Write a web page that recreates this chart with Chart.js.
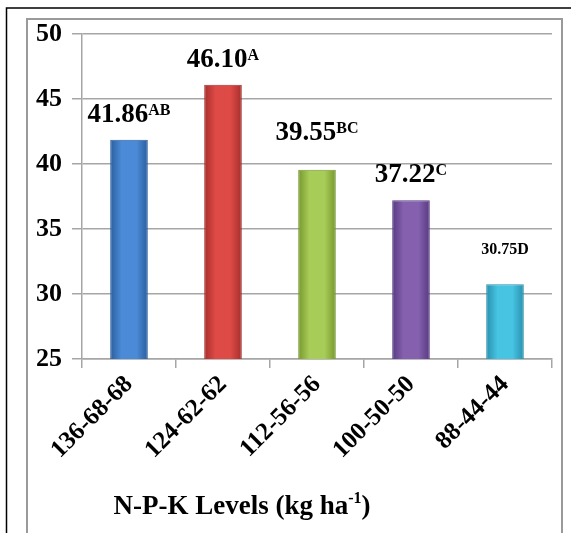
<!DOCTYPE html>
<html>
<head>
<meta charset="utf-8">
<script src="https://cdn.jsdelivr.net/npm/chart.js@4/dist/chart.umd.min.js"></script>
<style>
  html, body { margin: 0; padding: 0; background: #fff; }
  #wrap { width: 571px; height: 533px; position: relative; }
</style>
</head>
<body>
<div id="wrap"><canvas id="c" width="571" height="533"></canvas></div>
<script>
// data
const levels = ['136-68-68', '124-62-62', '112-56-56', '100-50-50', '88-44-44'];
const values = [41.86, 46.10, 39.55, 37.22, 30.75];
const letters = ['AB', 'A', 'BC', 'C', 'D'];
const yTicks = [25, 30, 35, 40, 45, 50];

// bar colours: centre / edge
const mid = ['#4a8ad6', '#de4a46', '#a8cc58', '#8560ae', '#46c4e2'];
const edge = ['#2b5e9e', '#a52e2c', '#76982e', '#573a82', '#2890ad'];

const serif = '"Liberation Serif", "Times New Roman", serif';

// frame lines round the figure
const framePlugin = {
  id: 'frame',
  beforeDraw(chart) {
    const c = chart.ctx;
    c.save();
    c.strokeStyle = '#000';
    c.lineWidth = 1.5;
    c.beginPath();
    c.moveTo(571, 8); c.lineTo(6.5, 8); c.lineTo(6.5, 533);
    c.stroke();
    c.strokeStyle = '#9a9a9a';
    c.lineWidth = 2;
    c.beginPath();
    c.moveTo(27, 533); c.lineTo(27, 19); c.lineTo(562, 19); c.lineTo(562, 533);
    c.stroke();
    c.restore();
  }
};

// value + letter label above each bar
const labelPlugin = {
  id: 'barLabels',
  afterDatasetsDraw(chart, args, opts) {
    const c = chart.ctx;
    const meta = chart.getDatasetMeta(0);
    c.save();
    c.fillStyle = '#000';
    c.textBaseline = 'alphabetic';
    c.textAlign = 'left';
    meta.data.forEach((bar, i) => {
      const main = values[i].toFixed(2);
      const y = bar.y - opts.offsets[i];
      if (i === values.length - 1) {
        c.font = 'bold 16px ' + serif;
        const s = main + letters[i];
        c.fillText(s, bar.x - c.measureText(s).width / 2, y);
        return;
      }
      const f1 = 'bold 27px ' + serif, f2 = 'bold 16px ' + serif;
      c.font = f1; const w1 = c.measureText(main).width;
      c.font = f2; const w2 = c.measureText(letters[i]).width;
      const x0 = bar.x - (w1 + w2) / 2;
      c.font = f1; c.fillText(main, x0, y);
      c.font = f2; c.fillText(letters[i], x0 + w1, y - 7);
    });
    c.restore();
  }
};

// x axis title with superscript
const titlePlugin = {
  id: 'axisTitle',
  afterDraw(chart) {
    const c = chart.ctx;
    const a = 'N-P-K Levels (kg ha', sup = '-1', b = ')';
    const fMain = 'bold 27px ' + serif, fSup = 'bold 16px ' + serif;
    c.save();
    c.fillStyle = '#000';
    c.textBaseline = 'alphabetic';
    c.font = fMain; const wa = c.measureText(a).width, wb = c.measureText(b).width;
    c.font = fSup; const ws = c.measureText(sup).width;
    let x = 242 - (wa + ws + wb) / 2;
    const y = 514;
    c.font = fMain; c.fillText(a, x, y); x += wa;
    c.font = fSup; c.fillText(sup, x, y - 11); x += ws;
    c.font = fMain; c.fillText(b, x, y);
    c.restore();
  }
};

function barFill(ctx) {
  const chart = ctx.chart;
  const i = ctx.dataIndex;
  const area = chart.chartArea;
  if (!area || i === undefined) return mid[i] || '#888';
  const cx = chart.scales.x.getPixelForValue(i);
  const half = (area.right - area.left) / levels.length * 0.2;
  const g = chart.ctx.createLinearGradient(cx - half, 0, cx + half, 0);
  g.addColorStop(0, edge[i]);
  g.addColorStop(0.3, mid[i]);
  g.addColorStop(0.7, mid[i]);
  g.addColorStop(1, edge[i]);
  return g;
}

new Chart(document.getElementById('c'), {
  type: 'bar',
  data: {
    labels: levels,
    datasets: [{
      data: values,
      backgroundColor: barFill,
      borderColor: edge,
      borderWidth: 1,
      barPercentage: 0.8,
      categoryPercentage: 0.5
    }]
  },
  plugins: [framePlugin, labelPlugin, titlePlugin],
  options: {
    responsive: false,
    animation: false,
    layout: { padding: { left: 30, right: 19, top: 34, bottom: 0 } },
    plugins: {
      legend: { display: false },
      tooltip: { enabled: false },
      barLabels: { offsets: [18, 18, 30, 18, 30] }
    },
    scales: {
      x: {
        grid: { drawOnChartArea: false, drawTicks: true, tickLength: 9, color: '#a6a6a6', lineWidth: 1.5 },
        border: { color: '#a6a6a6', width: 1.5 },
        ticks: {
          color: '#000',
          font: { family: serif, size: 25, weight: 'bold' },
          minRotation: 45, maxRotation: 45,
          padding: 2
        },
        afterFit(s) { s.height = 174; }
      },
      y: {
        min: yTicks[0],
        max: yTicks[yTicks.length - 1],
        afterBuildTicks(s) { s.ticks = yTicks.map(v => ({ value: v })); },
        grid: { color: '#a6a6a6', lineWidth: 1.5, tickLength: 10 },
        border: { color: '#a6a6a6', width: 1.5 },
        ticks: {
          color: '#000',
          font: { family: serif, size: 26, weight: 'bold' },
          padding: 10
        },
        afterFit(s) { s.width = 52; }
      }
    }
  }
});
</script>
</body>
</html>
